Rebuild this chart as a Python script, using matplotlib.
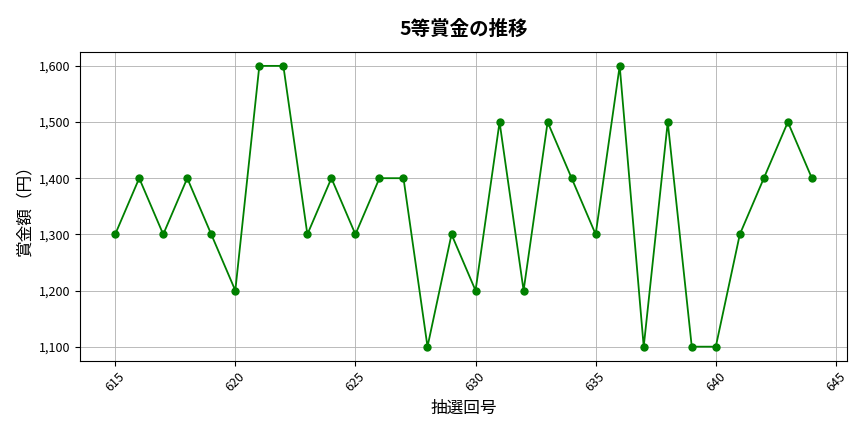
import matplotlib
matplotlib.use('Agg')
import matplotlib.pyplot as plt
from matplotlib.ticker import FuncFormatter

plt.rcParams['font.family'] = ['Noto Sans CJK JP', 'DejaVu Sans']

draws = list(range(615, 645))
prizes = [1300, 1400, 1300, 1400, 1300, 1200, 1600, 1600, 1300, 1400,
          1300, 1400, 1400, 1100, 1300, 1200, 1500, 1200, 1500, 1400,
          1300, 1600, 1100, 1500, 1100, 1100, 1300, 1400, 1500, 1400]

fig, ax = plt.subplots(figsize=(8.64, 4.32), dpi=100)
ax.plot(draws, prizes, marker='o', color='green', markersize=5, linewidth=1.3)
ax.set_title('5等賞金の推移', fontsize=14, fontweight='bold', pad=12)
ax.set_xlabel('抽選回号', fontsize=12)
ax.set_ylabel('賞金額（円）', fontsize=12)
ax.yaxis.set_major_formatter(FuncFormatter(lambda v, p: f'{int(v):,}'))
ax.grid(True, color='#b0b0b0', linewidth=0.6)
ax.tick_params(axis='x', rotation=45, labelsize=9)
ax.tick_params(axis='y', labelsize=9)
fig.subplots_adjust(left=0.093, right=0.98, top=0.88, bottom=0.165)
fig.savefig('out.png')
